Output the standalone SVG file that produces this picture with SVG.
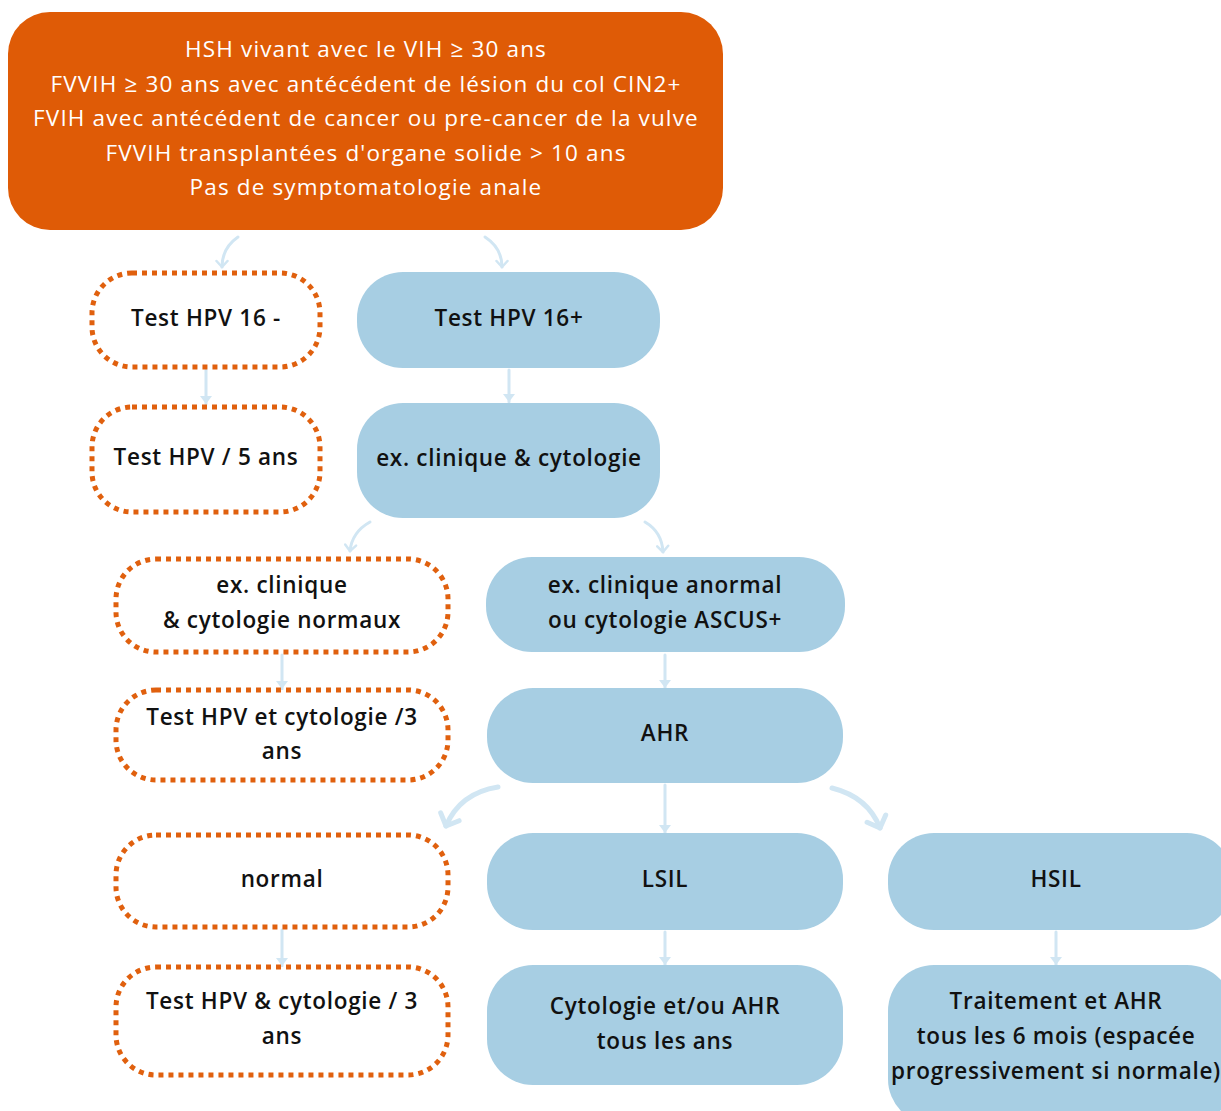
<svg xmlns="http://www.w3.org/2000/svg" width="1221" height="1111" viewBox="0 0 1221 1111">
<defs>
<style>
.top{fill:#DF5B06}
.blue{fill:#A7CEE3}
.dot{fill:#fff;stroke:#E0600E;stroke-width:5;stroke-dasharray:5 5}
.t{font-family:"Open Sans",Lato,sans-serif;font-size:22.5px;font-weight:600;letter-spacing:0.7px;fill:#111;text-anchor:middle}
.w{font-family:"Open Sans",Lato,sans-serif;font-size:22.5px;font-weight:500;letter-spacing:1.15px;fill:#fff;text-anchor:middle}
.c{fill:none;stroke:#D1E6F3;stroke-width:3;stroke-linecap:round}
.cb{fill:none;stroke:#D1E6F3;stroke-width:5;stroke-linecap:round}
</style>
<marker id="ah" viewBox="0 0 12 14" refX="10" refY="7" markerWidth="12" markerHeight="14" markerUnits="userSpaceOnUse" orient="auto">
<path d="M4 1.5 L10 7 L4 12.5" fill="none" stroke="#D1E6F3" stroke-width="2.5" stroke-linecap="round" stroke-linejoin="round"/>
</marker>
<marker id="ahb" viewBox="0 0 16 26" refX="13" refY="13" markerWidth="16" markerHeight="26" markerUnits="userSpaceOnUse" orient="auto">
<path d="M3 3 L13 13 L3 23" fill="none" stroke="#D1E6F3" stroke-width="5" stroke-linecap="round" stroke-linejoin="round"/>
</marker>
<marker id="tri" viewBox="0 0 10 14" refX="9" refY="7" markerWidth="10" markerHeight="14" markerUnits="userSpaceOnUse" orient="auto">
<path d="M1 1 L9 7 L1 13 Z" fill="#D1E6F3"/>
</marker>
</defs>
<g id="connectors">
<path class="c" d="M238 237 Q222 248 222 267" marker-end="url(#ah)"/>
<path class="c" d="M485 237 Q502 248 502 267" marker-end="url(#ah)"/>
<path class="c" d="M206 370 L206 404" marker-end="url(#tri)"/>
<path class="c" d="M509 370 L509 402" marker-end="url(#tri)"/>
<path class="c" d="M370 522 Q352 532 350 551" marker-end="url(#ah)"/>
<path class="c" d="M645 522 Q662 532 663 552" marker-end="url(#ah)"/>
<path class="c" d="M282 655 L282 689" marker-end="url(#tri)"/>
<path class="c" d="M665 655 L665 688" marker-end="url(#tri)"/>
<path class="cb" d="M498 787 Q460 793 446 826" marker-end="url(#ahb)"/>
<path class="c" d="M665 785 L665 833" marker-end="url(#tri)"/>
<path class="cb" d="M832 788 Q868 797 880 828" marker-end="url(#ahb)"/>
<path class="c" d="M282 930 L282 966" marker-end="url(#tri)"/>
<path class="c" d="M665 932 L665 965" marker-end="url(#tri)"/>
<path class="c" d="M1056 932 L1056 965" marker-end="url(#tri)"/>
</g>
<g id="n-top">
<rect class="top" x="8" y="12" width="715" height="218" rx="42"/>
<text class="w" x="366" y="57">HSH vivant avec le VIH ≥ 30 ans</text>
<text class="w" x="366" y="92">FVVIH ≥ 30 ans avec antécédent de lésion du col CIN2+</text>
<text class="w" x="366" y="126">FVIH avec antécédent de cancer ou pre-cancer de la vulve</text>
<text class="w" x="366" y="161">FVVIH transplantées d'organe solide &gt; 10 ans</text>
<text class="w" x="366" y="195">Pas de symptomatologie anale</text>
</g>
<g id="n-hpv16neg">
<rect class="dot" x="92" y="273" width="228" height="94" rx="40"/>
<text class="t" x="206" y="326">Test HPV 16 -</text>
</g>
<g id="n-hpv16pos">
<rect class="blue" x="357" y="272" width="303" height="96" rx="46"/>
<text class="t" x="509" y="326">Test HPV 16+</text>
</g>
<g id="n-hpv5">
<rect class="dot" x="92" y="407" width="228" height="105" rx="40"/>
<text class="t" x="206" y="465">Test HPV / 5 ans</text>
</g>
<g id="n-excyto">
<rect class="blue" x="357" y="403" width="303" height="115" rx="46"/>
<text class="t" x="509" y="466">ex. clinique &amp; cytologie</text>
</g>
<g id="n-normaux">
<rect class="dot" x="116" y="559" width="332" height="93" rx="40"/>
<text class="t" x="282" y="593">ex. clinique</text>
<text class="t" x="282" y="628">&amp; cytologie normaux</text>
</g>
<g id="n-anormal">
<rect class="blue" x="486" y="557" width="359" height="95" rx="46"/>
<text class="t" x="665" y="593">ex. clinique anormal</text>
<text class="t" x="665" y="628">ou cytologie ASCUS+</text>
</g>
<g id="n-hpv3a">
<rect class="dot" x="116" y="690" width="332" height="90" rx="40"/>
<text class="t" x="282" y="725">Test HPV et cytologie /3</text>
<text class="t" x="282" y="759">ans</text>
</g>
<g id="n-ahr">
<rect class="blue" x="487" y="688" width="356" height="95" rx="46"/>
<text class="t" x="665" y="741">AHR</text>
</g>
<g id="n-normal">
<rect class="dot" x="116" y="835" width="332" height="92" rx="40"/>
<text class="t" x="282" y="887">normal</text>
</g>
<g id="n-lsil">
<rect class="blue" x="487" y="833" width="356" height="97" rx="46"/>
<text class="t" x="665" y="887">LSIL</text>
</g>
<g id="n-hsil">
<rect class="blue" x="888" y="833" width="345" height="97" rx="46"/>
<text class="t" x="1056" y="887">HSIL</text>
</g>
<g id="n-hpv3b">
<rect class="dot" x="116" y="967" width="332" height="108" rx="40"/>
<text class="t" x="282" y="1009">Test HPV &amp; cytologie / 3</text>
<text class="t" x="282" y="1044">ans</text>
</g>
<g id="n-cyto">
<rect class="blue" x="487" y="965" width="356" height="120" rx="46"/>
<text class="t" x="665" y="1014">Cytologie et/ou AHR</text>
<text class="t" x="665" y="1049">tous les ans</text>
</g>
<g id="n-trait">
<rect class="blue" x="888" y="965" width="345" height="160" rx="46"/>
<text class="t" x="1056" y="1009">Traitement et AHR</text>
<text class="t" x="1056" y="1044">tous les 6 mois (espacée</text>
<text class="t" x="1056" y="1079">progressivement si normale)</text>
</g>
</svg>
